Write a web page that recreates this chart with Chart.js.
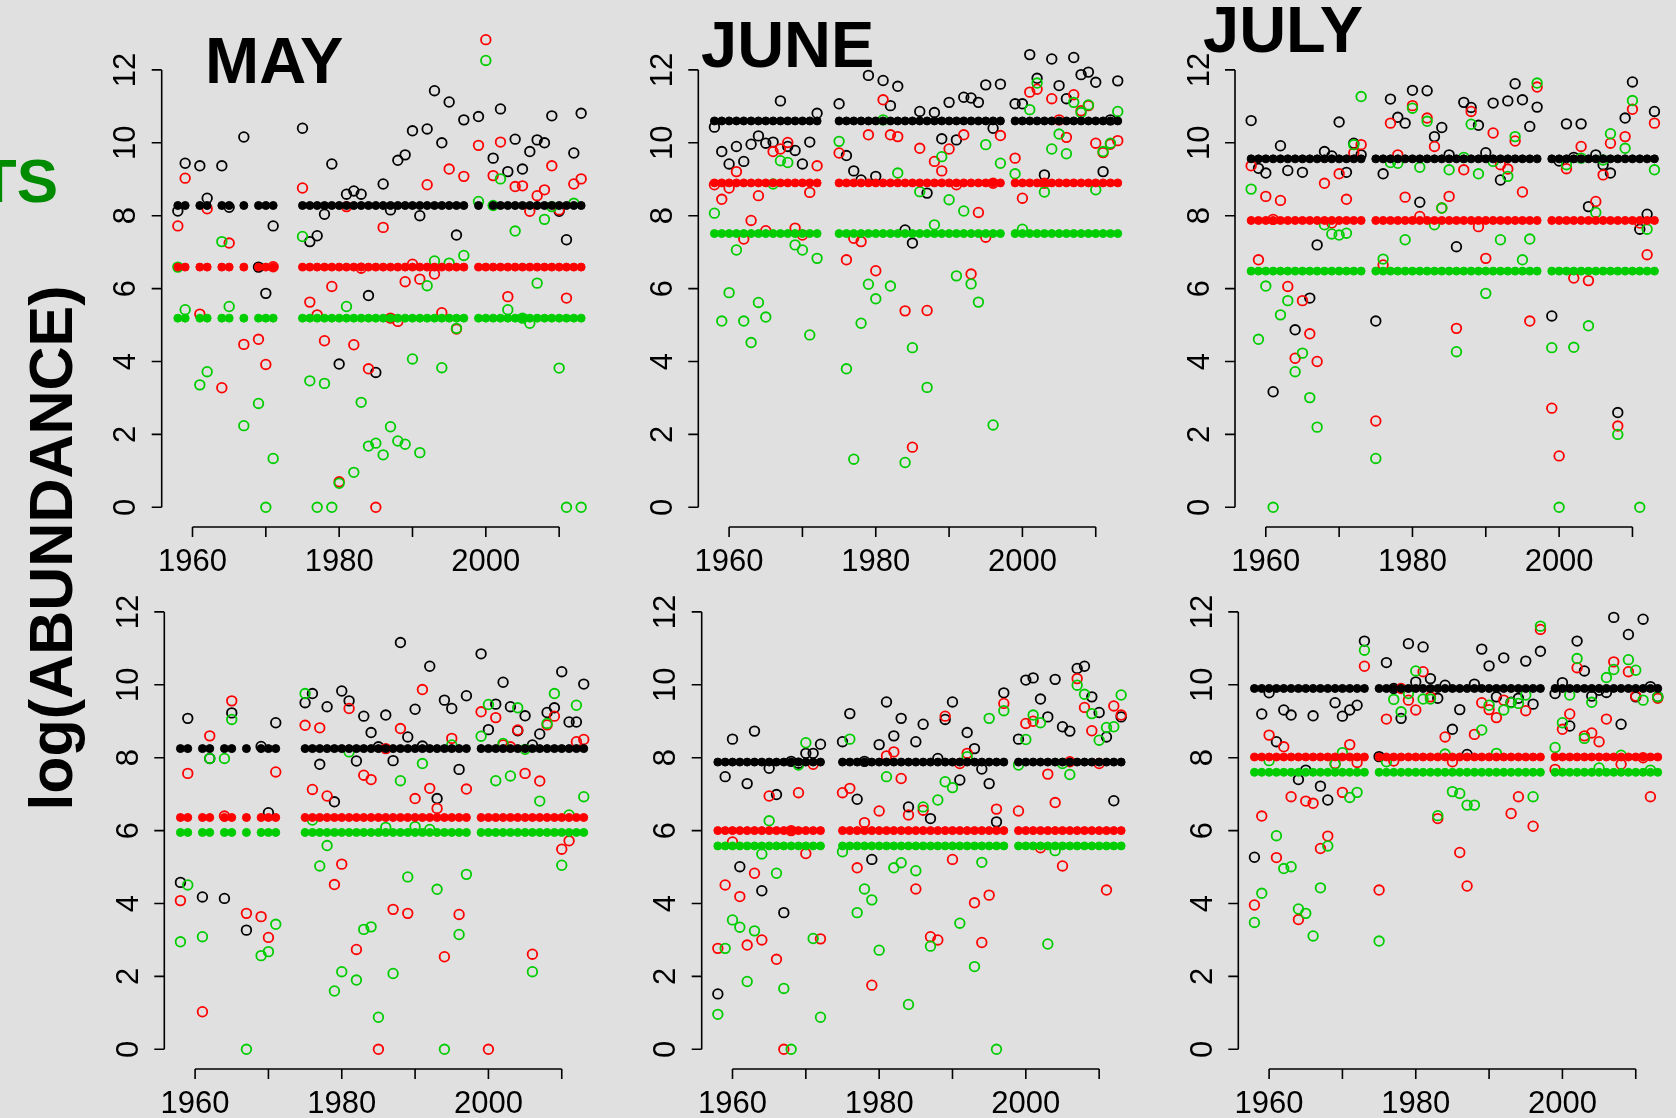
<!DOCTYPE html>
<html>
<head>
<meta charset="utf-8">
<script src="https://cdn.jsdelivr.net/npm/chart.js@4.4.1/dist/chart.umd.min.js"></script>
<style>
html,body{margin:0;padding:0;background:#e0e0e0;overflow:hidden;width:1676px;height:1118px;}
canvas{position:absolute;}
.lbl{position:absolute;font-family:"Liberation Sans",Arial,Helvetica,sans-serif;font-weight:bold;white-space:nowrap;line-height:1;}
</style>
</head>
<body>
<div class="lbl" style="left:205px;top:28px;font-size:65px;">MAY</div>
<div class="lbl" style="left:701px;top:12px;font-size:65px;">JUNE</div>
<div class="lbl" style="left:1203px;top:-3px;font-size:65px;">JULY</div>
<div class="lbl" style="right:1618px;top:150px;font-size:62px;color:#008b00;">TS</div>
<div class="lbl" style="left:51px;top:548px;font-size:61px;transform:translate(-50%,-50%) rotate(-90deg);">log(ABUNDANCE)</div>
<script>
// years sampled in each month (gaps are years with no survey)
const YEARS_MAY = [1958,1959,1961,1962,1964,1965,1967,1969,1970,1971,
  1975,1976,1977,1978,1979,1980,1981,1982,1983,1984,1985,1986,1987,1988,1989,1990,1991,1992,1993,1994,1995,1996,1997,
  1999,2000,2001,2002,2003,2004,2005,2006,2007,2008,2009,2010,2011,2012,2013];
const YEARS_JUNE = [1958,1959,1960,1961,1962,1963,1964,1965,1966,1967,1968,1969,1970,1971,1972,
  1975,1976,1977,1978,1979,1980,1981,1982,1983,1984,1985,1986,1987,1988,1989,1990,1991,1992,1993,1994,1995,1996,1997,
  1999,2000,2001,2002,2003,2004,2005,2006,2007,2008,2009,2010,2011,2012,2013];
const YEARS_JULY = [1958,1959,1960,1961,1962,1963,1964,1965,1966,1967,1968,1969,1970,1971,1972,1973,
  1975,1976,1977,1978,1979,1980,1981,1982,1983,1984,1985,1986,1987,1988,1989,1990,1991,1992,1993,1994,1995,1996,1997,
  1999,2000,2001,2002,2003,2004,2005,2006,2007,2008,2009,2010,2011,2012,2013];

// top row
const MAY_A_BLACK = [8.13,9.44,9.37,8.48,9.37,8.23,10.16,6.59,5.87,7.72,
  10.40,7.29,7.45,8.04,9.42,3.93,8.59,8.68,8.59,5.81,3.70,8.87,8.16,9.52,9.67,10.33,8.00,10.38,11.43,10.00,11.12,7.47,10.63,
  10.72,null,9.58,10.93,9.21,10.10,9.28,9.76,10.08,10.00,10.74,8.12,7.34,9.72,10.81];
const MAY_A_RED = [7.72,9.03,5.30,8.19,3.28,7.25,4.47,4.61,3.92,6.60,
  8.76,5.63,5.28,4.57,6.06,0.70,8.25,4.46,6.56,3.80,0,7.68,5.19,5.10,6.19,6.67,6.26,8.85,6.40,5.34,9.28,4.89,9.08,
  9.93,12.83,9.10,10.02,5.78,8.80,8.82,8.12,8.55,8.71,9.37,8.16,5.74,8.87,9.01];
const MAY_A_GREEN = [6.59,5.42,3.36,3.72,7.29,5.51,2.24,2.85,0,1.34,
  7.43,3.47,0,3.40,0,0.66,5.51,0.96,2.88,1.68,1.76,1.44,2.21,1.82,1.73,4.07,1.50,6.08,6.76,3.83,6.70,4.91,6.91,
  8.39,12.26,8.28,9.01,5.42,7.58,5.19,5.05,6.15,7.90,8.25,3.82,0,8.34,0];
const MAY_A_MEANS = [8.28,6.59,5.19];

const JUNE_A_BLACK = [10.43,9.76,9.42,9.90,9.49,9.96,10.19,9.99,10.02,11.15,9.90,9.79,9.42,10.02,10.81,
  11.07,9.65,9.23,8.98,11.85,9.08,11.71,11.02,11.55,7.61,7.25,10.86,8.62,10.83,10.11,11.11,10.08,11.25,11.23,11.11,11.59,10.40,11.61,
  11.07,11.07,12.42,11.77,9.12,12.30,11.57,11.21,12.34,11.87,11.94,11.66,9.21,10.63,11.70];
const JUNE_A_RED = [8.85,8.45,8.76,9.21,7.36,7.87,8.55,7.59,9.76,9.83,10.01,7.66,7.47,8.64,9.37,
  9.72,6.79,7.38,7.29,10.22,6.49,11.18,10.22,10.17,5.39,1.65,9.85,5.40,9.49,9.23,9.83,8.85,10.22,6.40,8.09,7.41,8.89,10.20,
  9.58,8.48,11.39,11.47,8.89,11.21,10.63,10.15,11.32,10.88,11.02,9.99,9.73,9.96,10.06];
const JUNE_A_GREEN = [8.07,5.11,5.89,7.06,5.11,4.52,5.62,5.22,8.87,9.51,9.46,7.20,7.06,4.73,6.83,
  10.04,3.80,1.32,5.05,6.12,5.72,10.63,6.07,9.17,1.23,4.38,8.66,3.29,7.75,9.62,8.44,6.35,8.13,6.13,5.63,9.95,2.26,9.44,
  9.15,7.63,10.91,11.64,8.65,9.83,10.24,9.70,11.11,10.83,11.04,8.71,9.76,9.99,10.86];
const JUNE_A_MEANS = [10.60,8.90,7.51];

const JULY_A_BLACK = [10.61,9.30,9.17,3.17,9.92,9.24,4.87,9.19,5.74,7.20,9.76,9.64,10.57,9.19,9.99,9.67,
  5.11,9.15,11.20,10.70,10.54,11.44,8.37,11.43,10.17,10.42,9.67,7.15,11.11,10.97,10.48,9.73,11.09,8.98,11.15,11.62,11.18,10.45,10.98,
  5.25,9.50,10.52,9.60,10.52,8.25,9.67,9.40,9.17,2.60,10.68,11.67,7.63,8.04,10.86];
const JULY_A_RED = [9.37,6.79,8.53,7.90,8.42,6.06,4.09,5.67,4.76,4.00,8.89,7.80,9.15,8.45,9.72,9.95,
  2.37,6.65,10.54,9.67,8.51,11.02,7.98,10.68,9.90,8.21,8.53,4.91,9.26,10.86,7.70,6.83,10.27,9.40,9.28,10.05,8.65,5.11,11.53,
  2.72,1.41,9.29,6.29,9.90,6.22,8.39,9.12,9.99,2.23,10.17,10.92,7.80,6.93,10.54];
const JULY_A_GREEN = [8.73,4.61,6.07,0,5.28,5.67,3.72,4.23,3.01,2.20,7.75,7.50,7.47,7.52,9.95,11.27,
  1.34,6.81,9.46,9.44,7.34,10.95,9.33,10.59,7.75,8.21,9.26,4.27,9.60,10.51,9.15,5.87,9.49,7.34,9.08,10.17,6.79,7.36,11.64,
  4.38,0,9.40,4.39,9.58,4.98,8.09,9.53,10.25,2.00,9.85,11.16,0,7.63,9.26];
const JULY_A_MEANS = [9.56,7.87,6.48];

// bottom row
const MAY_B_BLACK = [4.58,9.08,4.18,7.98,4.14,9.23,3.27,8.31,6.49,8.96,
  9.51,9.76,7.82,9.40,6.79,9.83,9.56,7.91,9.14,8.69,8.30,9.17,7.92,11.16,8.57,9.33,8.32,10.51,6.88,9.58,9.35,7.68,9.70,
  10.85,8.77,9.47,10.07,9.40,8.74,9.15,8.35,8.65,9.24,9.37,10.36,8.98,8.98,10.02];
const MAY_B_RED = [4.08,7.57,1.03,8.60,6.40,9.56,3.73,3.64,3.07,7.61,
  8.89,7.13,8.82,6.95,4.52,5.08,9.35,2.74,7.52,7.40,0,8.25,3.84,8.80,3.73,6.88,9.87,7.16,6.61,2.54,8.53,3.70,7.14,
  9.26,0,9.10,8.35,8.30,8.76,7.57,2.61,7.36,8.90,9.14,5.49,5.72,8.44,8.50];
const MAY_B_GREEN = [2.95,4.51,3.09,7.98,7.98,9.05,0,2.57,2.68,3.43,
  9.76,6.29,5.03,5.59,1.60,2.13,8.16,1.90,3.29,3.36,0.88,6.09,2.08,7.37,4.73,6.11,7.84,6.03,4.39,0,8.35,3.15,4.80,
  8.59,9.46,7.37,8.39,7.50,9.37,8.23,2.13,6.81,8.94,9.76,5.05,6.43,9.44,6.93];
const MAY_B_MEANS = [8.25,6.36,5.95];

const JUNE_B_BLACK = [1.52,7.48,8.51,5.01,7.29,8.73,4.35,7.71,6.99,3.75,7.90,7.85,8.12,8.12,8.37,
  8.44,9.21,6.86,7.90,5.21,8.36,9.53,8.60,9.08,6.65,8.44,8.92,6.33,7.98,9.05,9.53,7.39,8.69,8.25,7.69,7.29,6.24,9.78,
  8.51,10.13,10.19,9.61,9.12,10.15,8.85,8.73,10.45,10.51,9.67,9.24,8.57,6.82,9.12];
const JUNE_B_RED = [2.77,4.51,5.69,4.19,2.86,4.83,3.00,6.95,2.47,0,6.00,7.04,5.37,7.82,3.03,
  7.04,7.16,4.98,6.22,1.76,6.54,8.05,8.16,7.43,6.43,4.40,6.56,3.09,3.00,9.14,5.21,7.84,8.12,4.02,2.93,4.23,6.59,9.49,
  6.54,8.94,9.00,5.53,7.55,6.77,5.03,7.89,10.17,9.38,8.74,7.84,4.37,9.42,9.17];
const JUNE_B_GREEN = [0.96,2.77,3.55,3.35,1.86,3.25,5.36,6.27,4.83,1.67,0,7.80,8.41,3.04,0.88,
  5.42,8.51,3.75,4.40,4.10,2.72,7.48,4.98,5.12,1.23,4.90,6.65,2.83,6.84,7.34,7.18,3.46,8.03,2.27,5.13,9.08,0,9.29,
  7.80,8.50,9.17,8.96,2.89,5.45,7.84,7.54,9.99,9.74,9.21,8.48,8.83,8.85,9.72];
const JUNE_B_MEANS = [7.88,6.00,5.58];

const JULY_B_BLACK = [5.27,9.20,9.78,8.44,9.31,9.17,7.40,7.66,9.15,7.22,6.84,9.51,9.14,9.31,9.44,11.20,
  8.03,10.61,9.90,9.08,11.13,10.08,11.04,10.17,9.63,9.99,8.78,9.32,8.09,10.02,10.98,10.52,9.67,10.74,9.52,9.63,10.65,9.47,10.92,
  9.76,10.06,8.87,11.20,10.38,9.69,9.85,9.79,11.85,8.92,11.38,9.67,11.80,9.95,9.67];
const JULY_B_RED = [3.96,6.40,8.62,5.26,8.30,6.93,3.56,6.81,6.75,5.51,5.85,7.84,7.05,8.36,7.87,10.51,
  4.37,9.06,7.91,9.90,9.58,9.31,10.36,9.67,6.33,8.57,7.89,5.40,4.48,8.64,9.51,9.32,9.10,9.58,6.47,6.93,9.29,6.12,11.52,
  7.68,8.78,9.20,10.47,8.60,8.68,8.44,9.06,10.63,7.82,10.36,9.69,8.00,6.93,9.63];
const JULY_B_GREEN = [3.48,4.28,7.92,5.86,4.96,5.01,3.85,3.73,3.11,4.43,5.58,7.82,8.14,6.91,7.05,10.95,
  2.97,7.89,9.60,9.26,9.76,10.38,9.61,9.61,6.41,8.10,7.07,7.02,6.70,6.70,8.76,9.44,8.12,9.31,9.51,9.49,9.72,6.93,11.61,
  8.28,8.96,9.72,10.72,8.53,9.52,7.72,10.20,10.42,8.07,10.69,10.40,9.58,7.66,9.67];
const JULY_B_MEANS = [9.90,8.02,7.60];

const X_TICKS = [1960,1970,1980,1990,2000,2010];
const X_LABELS = ['1960','','1980','','2000',''];
const Y_TICKS = [0,2,4,6,8,10,12];
const COLORS = ['#000000','#ff0000','#00cd00'];

// plot box for each panel (left edge, bottom edge in page pixels)
const panels = [
  {years:YEARS_MAY,  series:[MAY_A_BLACK,MAY_A_RED,MAY_A_GREEN],    means:MAY_A_MEANS,  left:161.7,  bottom:527},
  {years:YEARS_JUNE, series:[JUNE_A_BLACK,JUNE_A_RED,JUNE_A_GREEN], means:JUNE_A_MEANS, left:698.3,  bottom:527},
  {years:YEARS_JULY, series:[JULY_A_BLACK,JULY_A_RED,JULY_A_GREEN], means:JULY_A_MEANS, left:1235,   bottom:527},
  {years:YEARS_MAY,  series:[MAY_B_BLACK,MAY_B_RED,MAY_B_GREEN],    means:MAY_B_MEANS,  left:164.3,  bottom:1069},
  {years:YEARS_JUNE, series:[JUNE_B_BLACK,JUNE_B_RED,JUNE_B_GREEN], means:JUNE_B_MEANS, left:701.7,  bottom:1069},
  {years:YEARS_JULY, series:[JULY_B_BLACK,JULY_B_RED,JULY_B_GREEN], means:JULY_B_MEANS, left:1238.3, bottom:1069}
];

const XMIN = 1955.8, XMAX = 2015.2, YMIN = -0.54, YMAX = 13.3;
const PX_YEAR = 7.333, PX_UNIT = 36.45;
const FONT = '"Liberation Sans", Arial, Helvetica, sans-serif';

// R-style axes: line only between first and last tick, rotated y labels
const rAxes = {
  id: 'rAxes',
  afterDraw(chart) {
    const ctx = chart.ctx, xs = chart.scales.x, ys = chart.scales.y;
    const bx = chart.chartArea.bottom, lx = chart.chartArea.left;
    ctx.save();
    ctx.strokeStyle = '#000';
    ctx.fillStyle = '#000';
    ctx.lineWidth = 1.6;
    ctx.beginPath();
    ctx.moveTo(xs.getPixelForValue(X_TICKS[0]), bx);
    ctx.lineTo(xs.getPixelForValue(X_TICKS[X_TICKS.length-1]), bx);
    X_TICKS.forEach(t => {
      const p = xs.getPixelForValue(t);
      ctx.moveTo(p, bx); ctx.lineTo(p, bx + 10);
    });
    ctx.moveTo(lx, ys.getPixelForValue(Y_TICKS[0]));
    ctx.lineTo(lx, ys.getPixelForValue(Y_TICKS[Y_TICKS.length-1]));
    Y_TICKS.forEach(t => {
      const p = ys.getPixelForValue(t);
      ctx.moveTo(lx, p); ctx.lineTo(lx - 10, p);
    });
    ctx.stroke();
    ctx.font = '31px ' + FONT;
    ctx.textAlign = 'center';
    ctx.textBaseline = 'middle';
    X_TICKS.forEach((t, i) => {
      if (X_LABELS[i]) ctx.fillText(X_LABELS[i], xs.getPixelForValue(t), bx + 35);
    });
    Y_TICKS.forEach(t => {
      ctx.save();
      ctx.translate(lx - 35, ys.getPixelForValue(t));
      ctx.rotate(-Math.PI / 2);
      ctx.fillText(String(t), 0, 0);
      ctx.restore();
    });
    ctx.restore();
  }
};

panels.forEach((p, k) => {
  const W = (XMAX - XMIN) * PX_YEAR, H = (YMAX - YMIN) * PX_UNIT;
  const cl = Math.round(p.left - 120), ct = Math.round(p.bottom - H - 40);
  const cw = Math.round(W + 150), ch = Math.round(H + 40 + 85);
  const cv = document.createElement('canvas');
  cv.width = cw; cv.height = ch;
  cv.style.left = cl + 'px'; cv.style.top = ct + 'px';
  cv.style.width = cw + 'px'; cv.style.height = ch + 'px';
  document.body.appendChild(cv);

  const meanSets = p.series.map((vals, s) => ({
    data: p.years.filter((y, i) => vals[i] !== null).map(y => ({x: y, y: p.means[s]})),
    pointRadius: 4, pointBorderWidth: 1,
    backgroundColor: COLORS[s], borderColor: COLORS[s]
  }));
  const obsSets = p.series.map((vals, s) => ({
    data: p.years.map((y, i) => ({x: y, y: vals[i]})).filter(d => d.y !== null),
    pointRadius: 4.8, pointBorderWidth: 1.8,
    backgroundColor: 'rgba(0,0,0,0)', borderColor: COLORS[s]
  }));

  new Chart(cv, {
    type: 'scatter',
    data: {datasets: [...meanSets, obsSets[2], obsSets[1], obsSets[0]].map(d => Object.assign(d, {clip: false}))},
    options: {
      responsive: false, animation: false, devicePixelRatio: 1, events: [],
      layout: {padding: {left: p.left - cl, top: (p.bottom - H) - ct, right: cw - (p.left - cl) - W, bottom: ch - (p.bottom - ct)}},
      plugins: {legend: {display: false}, tooltip: {enabled: false}},
      scales: {
        x: {type: 'linear', min: XMIN, max: XMAX, display: false},
        y: {type: 'linear', min: YMIN, max: YMAX, display: false}
      }
    },
    plugins: [rAxes]
  });
});
</script>
</body>
</html>
